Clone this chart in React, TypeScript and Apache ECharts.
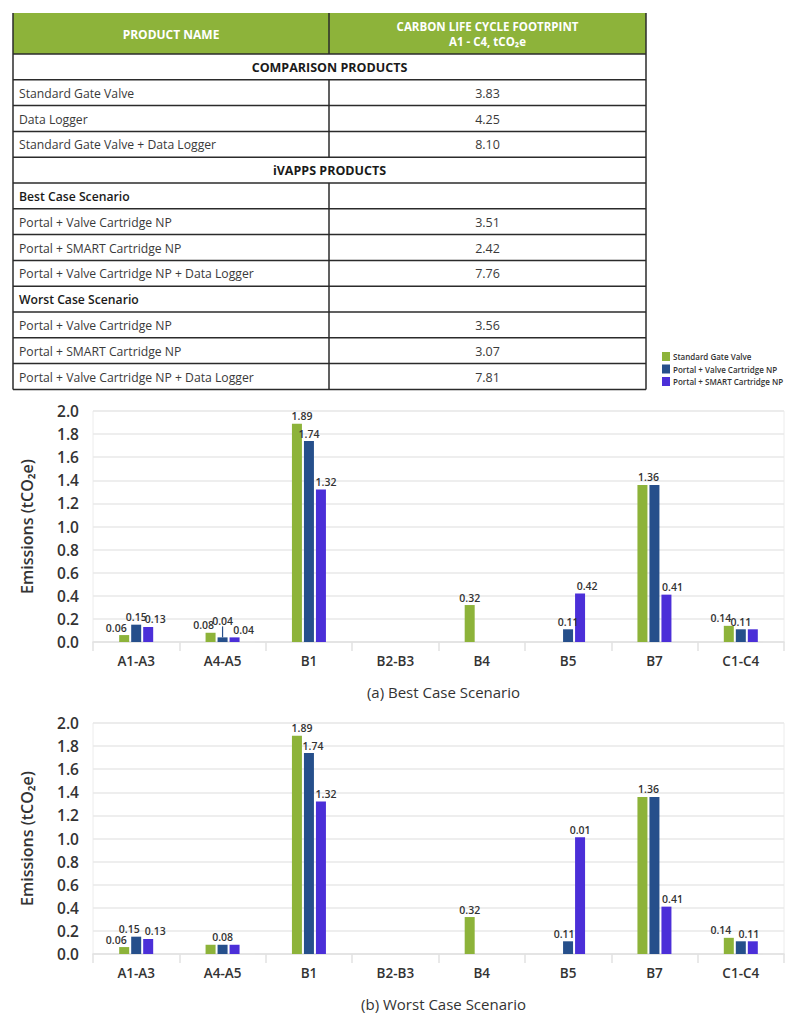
import React, { useEffect, useRef } from "react";
import * as echarts from "echarts";

// ---------- data ----------
const categories = ["A1-A3", "A4-A5", "B1", "B2-B3", "B4", "B5", "B7", "C1-C4"];
const seriesNames = ["Standard Gate Valve", "Portal + Valve Cartridge NP", "Portal + SMART Cartridge NP"];

const bestStandard = [0.06, 0.08, 1.89, null, 0.32, null, 1.36, 0.14];
const bestValve = [0.15, 0.04, 1.74, null, null, 0.11, 1.36, 0.11];
const bestSmart = [0.13, 0.04, 1.32, null, null, 0.42, 0.41, 0.11];

const worstStandard = [0.06, 0.08, 1.89, null, 0.32, null, 1.36, 0.14];
const worstValve = [0.15, 0.08, 1.74, null, null, 0.11, 1.36, 0.11];
const worstSmart = [0.13, 0.08, 1.32, null, null, 1.01, 0.41, 0.11];

// label text shown in the source where it differs from the value
const worstSmartLabelText: (string | null)[] = [null, null, null, null, null, "0.01", null, null];

const yTicks = [0.0, 0.2, 0.4, 0.6, 0.8, 1.0, 1.2, 1.4, 1.6, 1.8, 2.0];

const tableHeader = ["PRODUCT NAME", "CARBON LIFE CYCLE FOOTRPINT", "A1 - C4, tCO\u2082e"];
const comparisonNames = ["Standard Gate Valve", "Data Logger", "Standard Gate Valve + Data Logger"];
const comparisonValues = ["3.83", "4.25", "8.10"];
const bestNames = ["Portal + Valve Cartridge NP", "Portal + SMART Cartridge NP", "Portal + Valve Cartridge NP + Data Logger"];
const bestValues = ["3.51", "2.42", "7.76"];
const worstNames = ["Portal + Valve Cartridge NP", "Portal + SMART Cartridge NP", "Portal + Valve Cartridge NP + Data Logger"];
const worstValues = ["3.56", "3.07", "7.81"];

// ---------- styling ----------
const COLORS = ["#8db33a", "#264f8b", "#4b2fd8"];
const FONT = '"Open Sans", "Noto Sans", sans-serif';

// label nudges (px) for readability, per series
const labelDx = {
  best: [
    [-8, -7, 5, 0, 0, 0, 6, -8],
    [-7, 2, 4, 0, 0, -4, 0, 8],
    [7, 9, 5, 0, 0, 7, 6, 0],
  ],
  worst: [
    [-8, 0, 5, 0, 0, 0, 6, -8],
    [-7, 0, 4, 0, 0, -4, 0, 8],
    [7, 0, 5, 0, 0, 0, 6, 0],
  ],
};
const labelHidden = {
  best: [[], [6], [7]],
  worst: [[1], [6], [1, 7]],
};

function buildTable() {
  const L = 13, R = 646, S = 329, T = 13, HH = 41, RH = 25.8;
  const g: any[] = [];
  const border = "#2b2b2b";
  type Row = { kind: "section" | "heading" | "item"; name: string; value?: string };
  const rows: Row[] = [];
  rows.push({ kind: "section", name: "COMPARISON PRODUCTS" });
  comparisonNames.forEach((n, i) => rows.push({ kind: "item", name: n, value: comparisonValues[i] }));
  rows.push({ kind: "section", name: "iVAPPS PRODUCTS" });
  rows.push({ kind: "heading", name: "Best Case Scenario" });
  bestNames.forEach((n, i) => rows.push({ kind: "item", name: n, value: bestValues[i] }));
  rows.push({ kind: "heading", name: "Worst Case Scenario" });
  worstNames.forEach((n, i) => rows.push({ kind: "item", name: n, value: worstValues[i] }));

  const bottom = T + HH + rows.length * RH;
  g.push({ type: "rect", shape: { x: L, y: T, width: R - L, height: HH }, style: { fill: "#8db33a" } });
  g.push({
    type: "text", x: (L + S) / 2, y: T + HH / 2 + 1,
    style: { text: tableHeader[0], fill: "#fff", fontSize: 12, fontWeight: "bold", fontFamily: FONT, align: "center", verticalAlign: "middle" },
  });
  g.push({
    type: "text", x: (S + R) / 2, y: T + HH / 2 + 0.5,
    style: {
      text: tableHeader[1] + "\n" + tableHeader[2], fill: "#fff", fontSize: 11.5, lineHeight: 15,
      fontWeight: "bold", fontFamily: FONT, align: "center", verticalAlign: "middle",
    },
  });
  // header divider
  g.push({ type: "line", shape: { x1: S, y1: T, x2: S, y2: T + HH }, style: { stroke: border, lineWidth: 1.5 } });

  rows.forEach((r, i) => {
    const y0 = T + HH + i * RH;
    const cy = y0 + RH / 2 + 0.5;
    g.push({ type: "line", shape: { x1: L, y1: y0, x2: R, y2: y0 }, style: { stroke: border, lineWidth: 1.5 } });
    if (r.kind === "section") {
      g.push({
        type: "text", x: (L + R) / 2, y: cy,
        style: { text: r.name, fill: "#1a1a1a", fontSize: 12.5, fontWeight: "bold", fontFamily: FONT, align: "center", verticalAlign: "middle" },
      });
    } else {
      g.push({ type: "line", shape: { x1: S, y1: y0, x2: S, y2: y0 + RH }, style: { stroke: border, lineWidth: 1.5 } });
      g.push({
        type: "text", x: L + 6, y: cy,
        style: {
          text: r.name, fill: r.kind === "heading" ? "#1a1a1a" : "#3a3a3a", fontSize: 12.2,
          fontWeight: r.kind === "heading" ? 600 : "normal", fontFamily: FONT, align: "left", verticalAlign: "middle",
        },
      });
      if (r.value) {
        g.push({
          type: "text", x: (S + R) / 2, y: cy,
          style: { text: r.value, fill: "#3a3a3a", fontSize: 12.5, fontFamily: FONT, align: "center", verticalAlign: "middle" },
        });
      }
    }
  });
  g.push({ type: "line", shape: { x1: L, y1: bottom, x2: R, y2: bottom }, style: { stroke: border, lineWidth: 1.5 } });
  g.push({ type: "line", shape: { x1: L, y1: T, x2: L, y2: bottom }, style: { stroke: border, lineWidth: 1.5 } });
  g.push({ type: "line", shape: { x1: R, y1: T, x2: R, y2: bottom }, style: { stroke: border, lineWidth: 1.5 } });
  return g;
}

function makeSeries(
  idx: number,
  values: (number | null)[],
  axis: number,
  key: "best" | "worst",
  textOverride?: (string | null)[]
): any {
  const hidden = labelHidden[key][idx];
  const dx = labelDx[key][idx];
  const raised = key === "best" && idx === 1;
  return {
    name: seriesNames[idx],
    type: "bar",
    xAxisIndex: axis,
    yAxisIndex: axis,
    barWidth: 10,
    barGap: "20%",
    itemStyle: { color: COLORS[idx] },
    data: values.map((v, i) =>
      v == null
        ? null
        : {
            value: v,
            label: {
              show: !hidden.includes(i),
              offset: [dx[i], 0],
            },
            labelLine: raised && i === 1 ? { show: true, lineStyle: { color: COLORS[1], width: 1.2 } } : undefined,
          }
    ),
    labelLayout: raised
      ? (p: any) => (p.dataIndex === 1 ? { dy: -9 } : {})
      : undefined,
    label: {
      position: "top",
      distance: 2,
      fontSize: 10.5,
      fontWeight: 600,
      color: "#333",
      fontFamily: FONT,
      formatter: (p: any) => {
        const o = textOverride ? textOverride[p.dataIndex] : null;
        return o != null ? o : Number(p.value).toFixed(2);
      },
    },
  };
}

export default function App() {
  const ref = useRef<HTMLDivElement>(null);
  useEffect(() => {
    document.body.style.margin = "0";
    if (!ref.current) return;
    const chart = echarts.init(ref.current, null, { renderer: "svg" });
    const gridBase = { left: 93, width: 691, height: 231, show: true, borderColor: "#ececec", borderWidth: 1 };
    const xAxisBase = {
      type: "category",
      data: categories,
      axisLine: { lineStyle: { color: "#e2e2e2", width: 1.5 } },
      axisTick: { show: true, length: 9, lineStyle: { color: "#e2e2e2", width: 1.5 } },
      axisLabel: { color: "#333", fontSize: 13.5, fontWeight: 600, margin: 12, fontFamily: FONT },
    };
    const yAxisBase = {
      type: "value",
      min: yTicks[0],
      max: yTicks[yTicks.length - 1],
      interval: 0.2,
      name: "Emissions (tCO\u2082e)",
      nameLocation: "middle",
      nameGap: 58,
      nameTextStyle: { color: "#333", fontSize: 16, fontWeight: 600, fontFamily: FONT },
      axisLine: { show: false },
      axisTick: { show: false },
      splitLine: { lineStyle: { color: "#e8e8e8", width: 1.5 } },
      axisLabel: {
        color: "#333", fontSize: 15.5, fontWeight: 600, margin: 14, fontFamily: FONT,
        formatter: (v: number) => v.toFixed(1),
      },
    };
    chart.setOption({
      animation: false,
      textStyle: { fontFamily: FONT },
      legend: {
        orient: "vertical",
        left: 657,
        top: 347,
        itemWidth: 8,
        itemHeight: 9,
        itemGap: 3.5,
        icon: "rect",
        data: seriesNames,
        selectedMode: false,
        textStyle: { fontSize: 8, fontWeight: 600, color: "#333", fontFamily: FONT, padding: [0, 0, 0, -2] },
      },
      title: [
        {
          text: "(a) Best Case Scenario", left: 438.5, top: 679, textAlign: "center",
          textStyle: { fontSize: 15, fontWeight: 500, color: "#333", fontFamily: FONT },
        },
        {
          text: "(b) Worst Case Scenario", left: 438.5, top: 991, textAlign: "center",
          textStyle: { fontSize: 15, fontWeight: 500, color: "#333", fontFamily: FONT },
        },
      ],
      grid: [
        { ...gridBase, top: 411 },
        { ...gridBase, top: 723 },
      ],
      xAxis: [
        { ...xAxisBase, gridIndex: 0 },
        { ...xAxisBase, gridIndex: 1 },
      ],
      yAxis: [
        { ...yAxisBase, gridIndex: 0 },
        { ...yAxisBase, gridIndex: 1 },
      ],
      graphic: buildTable(),
      series: [
        makeSeries(0, bestStandard, 0, "best"),
        makeSeries(1, bestValve, 0, "best"),
        makeSeries(2, bestSmart, 0, "best"),
        makeSeries(0, worstStandard, 1, "worst"),
        makeSeries(1, worstValve, 1, "worst"),
        makeSeries(2, worstSmart, 1, "worst", worstSmartLabelText),
      ],
    });
    return () => chart.dispose();
  }, []);
  return <div ref={ref} style={{ width: 800, height: 1030 }} />;
}
